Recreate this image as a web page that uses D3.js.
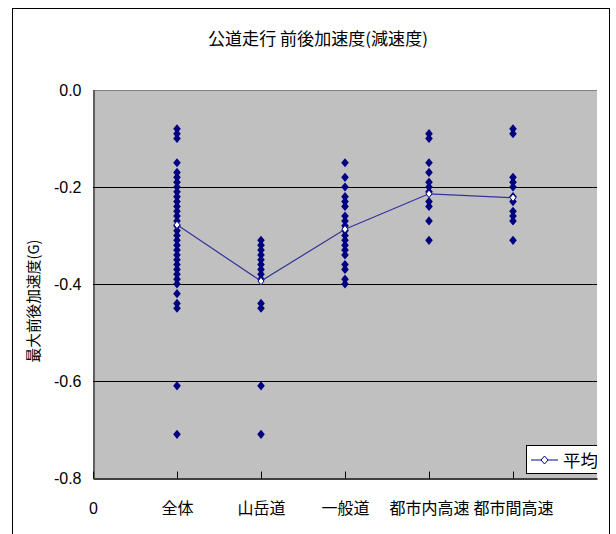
<!DOCTYPE html>
<html>
<head>
<meta charset="utf-8">
<script src="https://cdn.jsdelivr.net/npm/d3@7/dist/d3.min.js"></script>
<style>
  html, body { margin: 0; padding: 0; background: #fff; }
  svg { display: block; }
</style>
</head>
<body>
<svg id="chart" width="616" height="534"></svg>
<script>
// Category tick labels along the x axis (position 0 carries the numeric "0")
const tickLabels = ["0", "全体", "山岳道", "一般道", "都市内高速", "都市間高速"];

// Maximum longitudinal deceleration (G) per road type
const zentai = [-0.08, -0.09, -0.10, -0.15, -0.17, -0.18, -0.19, -0.20, -0.21, -0.22,
  -0.23, -0.24, -0.25, -0.26, -0.27, -0.28, -0.29, -0.30, -0.31, -0.32, -0.33, -0.34,
  -0.35, -0.36, -0.37, -0.38, -0.39, -0.40, -0.42, -0.44, -0.45, -0.61, -0.71];
const sangakudo = [-0.31, -0.32, -0.33, -0.34, -0.35, -0.36, -0.37, -0.38, -0.39,
  -0.44, -0.45, -0.61, -0.71];
const ippando = [-0.15, -0.18, -0.20, -0.22, -0.23, -0.24, -0.26, -0.27, -0.28, -0.29,
  -0.30, -0.31, -0.32, -0.33, -0.34, -0.36, -0.37, -0.39, -0.40];
const toshinaiKosoku = [-0.09, -0.10, -0.15, -0.17, -0.19, -0.20, -0.21, -0.23, -0.24,
  -0.27, -0.31];
const toshikanKosoku = [-0.08, -0.09, -0.18, -0.19, -0.20, -0.22, -0.23, -0.25, -0.26,
  -0.27, -0.31];

// Mean per road type (平均)
const averages = [-0.278, -0.394, -0.287, -0.214, -0.222];

const yTicks = [0, -0.2, -0.4, -0.6, -0.8];

const groups = [zentai, sangakudo, ippando, toshinaiKosoku, toshikanKosoku];

const svg = d3.select("#chart");
const W = 616, H = 534;
const plot = { left: 93, right: 597, top: 90, bottom: 478 };

const x = d3.scaleLinear().domain([0, 6]).range([plot.left, plot.right]);
const y = d3.scaleLinear().domain([-0.8, 0]).range([plot.bottom, plot.top]);

const jp = "'Noto Sans CJK JP', 'Noto Sans CJK SC', sans-serif";
const latin = "'Liberation Sans', Arial, sans-serif";

// Outer chart frame
svg.append("rect")
  .attr("x", 12.5).attr("y", 8.5)
  .attr("width", 597).attr("height", 540)
  .attr("fill", "#fff").attr("stroke", "#000").attr("stroke-width", 1);

// Plot area background
svg.append("rect")
  .attr("x", plot.left).attr("y", plot.top)
  .attr("width", plot.right - plot.left).attr("height", plot.bottom - plot.top)
  .attr("fill", "#c0c0c0");

// Plot border on top edge
svg.append("line")
  .attr("x1", plot.left).attr("x2", plot.right)
  .attr("y1", plot.top + 0.5).attr("y2", plot.top + 0.5)
  .attr("stroke", "#808080");

// Horizontal gridlines
svg.append("g").selectAll("line")
  .data(yTicks.filter(v => v !== 0 && v !== -0.8))
  .join("line")
  .attr("x1", plot.left).attr("x2", plot.right)
  .attr("y1", d => Math.round(y(d)) + 0.5).attr("y2", d => Math.round(y(d)) + 0.5)
  .attr("stroke", "#000").attr("stroke-width", 1);

// Y axis
const yAxis = svg.append("g")
  .attr("transform", `translate(${plot.left + 0.5},0)`)
  .call(d3.axisLeft(y).tickValues(yTicks).tickSize(0).tickPadding(12)
    .tickFormat(d3.format(".1f")));
yAxis.select(".domain").attr("stroke", "#000");
yAxis.selectAll("text")
  .attr("font-family", latin).attr("font-size", 16).attr("fill", "#000")
  .text(d => (d === 0 ? "0.0" : "-" + Math.abs(d).toFixed(1)));

// X axis with inward ticks
const xAxis = svg.append("g")
  .attr("transform", `translate(0,${plot.bottom + 0.5})`)
  .call(d3.axisBottom(x).tickValues(d3.range(0, 6)).tickSize(-7).tickSizeOuter(0)
    .tickFormat((d, i) => tickLabels[i]));
xAxis.select(".domain").attr("stroke", "#000").attr("stroke-width", 1.5);
xAxis.selectAll(".tick line").attr("stroke", "#000");
xAxis.selectAll("text")
  .attr("y", 35).attr("dy", 0)
  .attr("font-family", (d, i) => (i === 0 ? latin : jp))
  .attr("font-size", 16).attr("fill", "#000");

// Scatter points: navy diamonds
const diamond = (cx, cy, hw, hh) =>
  `M${cx},${cy - hh}L${cx + hw},${cy}L${cx},${cy + hh}L${cx - hw},${cy}Z`;

const pts = [];
groups.forEach((vals, gi) => vals.forEach(v => pts.push({ cat: gi + 1, v })));
svg.append("g").selectAll("path")
  .data(pts)
  .join("path")
  .attr("d", d => diamond(x(d.cat), y(d.v), 3.8, 4.6))
  .attr("fill", "#000080");

// Mean line with white diamond markers
const line = d3.line().x((d, i) => x(i + 1)).y(d => y(d));
svg.append("path")
  .datum(averages)
  .attr("d", line)
  .attr("fill", "none").attr("stroke", "#33339a").attr("stroke-width", 1.2);
svg.append("g").selectAll("path")
  .data(averages)
  .join("path")
  .attr("d", (d, i) => diamond(x(i + 1), y(d), 3, 3.8))
  .attr("fill", "#fff").attr("stroke", "#000080").attr("stroke-width", 1);

// Title
svg.append("text")
  .attr("x", 318).attr("y", 45)
  .attr("text-anchor", "middle")
  .attr("font-family", jp).attr("font-size", 16.5).attr("fill", "#000")
  .attr("textLength", 220).attr("lengthAdjust", "spacingAndGlyphs")
  .text("公道走行 前後加速度(減速度)");

// Y axis title
svg.append("text")
  .attr("transform", "translate(39,301) rotate(-90)")
  .attr("text-anchor", "middle")
  .attr("font-family", jp).attr("font-size", 15).attr("fill", "#000")
  .attr("textLength", 123).attr("lengthAdjust", "spacingAndGlyphs")
  .text("最大前後加速度(G)");

// Legend (clipped at the plot's right edge)
svg.append("clipPath").attr("id", "legendClip")
  .append("rect").attr("x", 0).attr("y", 0).attr("width", plot.right).attr("height", H);
const lg = svg.append("g").attr("clip-path", "url(#legendClip)");
lg.append("rect")
  .attr("x", 526.5).attr("y", 445.5).attr("width", 80).attr("height", 28)
  .attr("fill", "#fff").attr("stroke", "#000");
lg.append("line")
  .attr("x1", 531).attr("x2", 558).attr("y1", 460).attr("y2", 460)
  .attr("stroke", "#33339a").attr("stroke-width", 1.2);
lg.append("path")
  .attr("d", diamond(544.5, 460, 3.5, 4))
  .attr("fill", "#fff").attr("stroke", "#000080");
lg.append("text")
  .attr("x", 563).attr("y", 467)
  .attr("font-family", jp).attr("font-size", 17.5).attr("fill", "#000")
  .text("平均");
</script>
</body>
</html>
